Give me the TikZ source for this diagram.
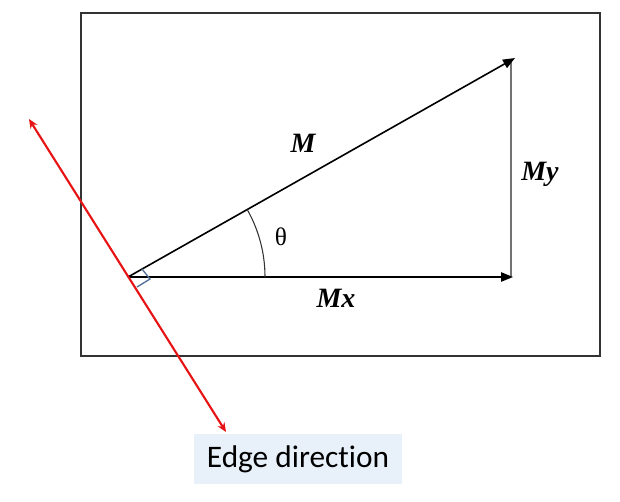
\documentclass[tikz,border=0pt]{standalone}
\usepackage{fontspec}
\setmainfont{Liberation Serif}
\newfontfamily\labelsans[Ligatures={NoCommon,NoRequired,NoContextual}]{Carlito}
\usetikzlibrary{arrows.meta}
\definecolor{edgered}{RGB}{230,20,20}
\definecolor{markblue}{RGB}{80,110,150}
\definecolor{boxblue}{RGB}{232,241,249}
\begin{document}
\begin{tikzpicture}[x=0.75pt,y=-0.75pt,
  vec/.style={draw=black,line width=1.2pt,-{Triangle[length=9pt,width=7pt]}},
  vlabel/.style={font=\fontsize{21}{24}\selectfont\bfseries\itshape,inner sep=0pt},
  redarrow/.style={draw=edgered,line width=1.6pt,{Stealth[length=7pt,width=6pt]}-{Stealth[length=7pt,width=6pt]}}]
\useasboundingbox (0,0) rectangle (620,501);
\node[draw=black!80,line width=0.8pt,minimum width=519*0.75pt,minimum height=343*0.75pt,inner sep=0pt] (frame) at (340.5,184.5) {};
\coordinate (O) at (128,277);
\coordinate (Mtip) at (515,58);
\coordinate (Xtip) at (513,277);
\coordinate (Ytop) at (511,60);
\coordinate (Ybot) at (511,277);
\coordinate (Rtop) at (29,119);
\coordinate (Rbot) at (226,432);
% vertical My line
\draw[draw=black!55,line width=1.3pt] (Ybot) -- (Ytop);
% vectors
\draw[vec] (O) -- (Mtip);
\draw[vec] (O) -- (Xtip);
% angle arc
\draw[black!80,line width=0.8pt] (128+137,277) arc[start angle=0,end angle=29.5,radius=137*0.75pt];
% red edge direction
\draw[redarrow] (Rtop) -- (Rbot);
% right angle marker
\draw[markblue,line width=1pt] (142,269) -- (150,279) -- (137,287);
% labels
\node[vlabel] (lM) at (303,143) {M};
\node[vlabel] (lMy) at (540,174) {My};
\node[vlabel] (lMx) at (336,298) {Mx};
\node[font=\fontsize{19}{22}\selectfont,inner sep=0pt] (th) at (281,237) {θ};
\node[fill=boxblue,minimum width=208*0.75pt,minimum height=50*0.75pt,inner sep=0pt,font=\labelsans\fontsize{23.5}{26}\selectfont] (edge) at (298,459) {Edge direction};
\end{tikzpicture}
\end{document}
